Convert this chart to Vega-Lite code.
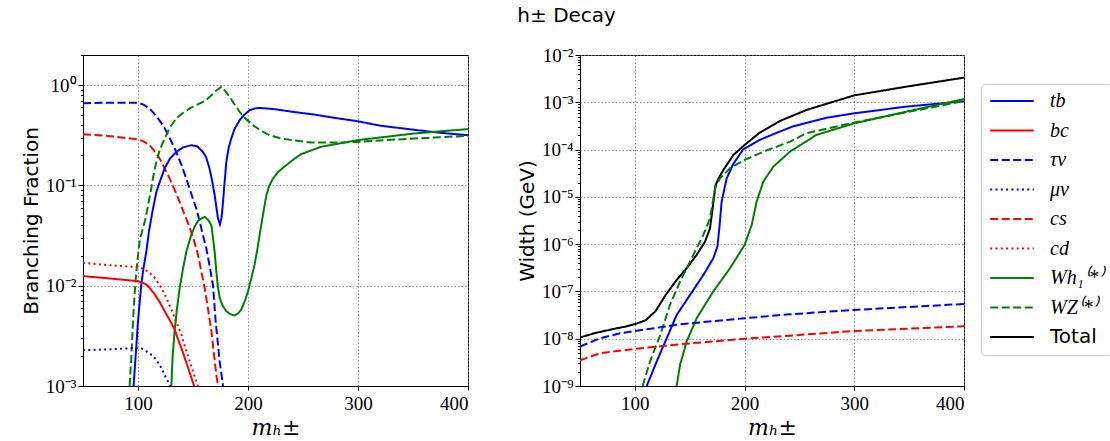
{
  "$schema": "https://vega.github.io/schema/vega-lite/v6.json",
  "padding": {"left": 20, "top": 5, "right": 5, "bottom": 5},
  "background": "white",
  "title": {"text": "h± Decay", "font": "DejaVu Sans", "fontSize": 20, "fontWeight": "normal", "anchor": "middle", "frame": "bounds", "offset": 20, "color": "black"},
  "config": {
    "view": {"stroke": "black", "strokeWidth": 1},
    "axis": {
      "labelFont": "Liberation Serif", "labelFontSize": 19, "labelColor": "black",
      "titleFont": "DejaVu Sans", "titleFontSize": 20, "titleFontWeight": "normal", "titleColor": "black",
      "domainColor": "black", "tickColor": "black", "tickSize": 4,
      "gridColor": "#777777", "gridDash": [1.5, 2], "gridWidth": 0.8
    },
    "legend": {
      "orient": "none", "legendX": 898, "legendY": 29,
      "symbolType": "stroke", "symbolSize": 1900, "symbolStrokeWidth": 2,
      "labelFont": "Liberation Serif", "labelFontSize": 20, "labelColor": "black", "labelOffset": 15,
      "strokeColor": "#cccccc", "fillColor": "white", "cornerRadius": 4, "padding": 8, "rowPadding": 9.5, "clipHeight": 18
    }
  },
  "datasets": {
    "br": [
      {"m":50,"v":0.66,"s":"τν"},{"m":75,"v":0.67,"s":"τν"},{"m":100,"v":0.67,"s":"τν"},{"m":105,"v":0.64,"s":"τν"},{"m":110.6,"v":0.586,"s":"τν"},{"m":116,"v":0.5,"s":"τν"},{"m":122.7,"v":0.4,"s":"τν"},{"m":128,"v":0.31,"s":"τν"},{"m":134.8,"v":0.216,"s":"τν"},{"m":140,"v":0.155,"s":"τν"},{"m":143.9,"v":0.117,"s":"τν"},{"m":148,"v":0.085,"s":"τν"},{"m":153,"v":0.059,"s":"τν"},{"m":156,"v":0.044,"s":"τν"},{"m":159,"v":0.032,"s":"τν"},{"m":162,"v":0.0239,"s":"τν"},{"m":165,"v":0.016,"s":"τν"},{"m":168.2,"v":0.01,"s":"τν"},{"m":170.6,"v":0.0044,"s":"τν"},{"m":174.2,"v":0.00177,"s":"τν"},{"m":177.3,"v":0.001,"s":"τν"},
      {"m":50,"v":0.325,"s":"cs"},{"m":75,"v":0.31,"s":"cs"},{"m":100,"v":0.288,"s":"cs"},{"m":105,"v":0.275,"s":"cs"},{"m":110.6,"v":0.252,"s":"cs"},{"m":115,"v":0.22,"s":"cs"},{"m":119.7,"v":0.186,"s":"cs"},{"m":124,"v":0.15,"s":"cs"},{"m":128.8,"v":0.117,"s":"cs"},{"m":133,"v":0.092,"s":"cs"},{"m":137.9,"v":0.0687,"s":"cs"},{"m":142,"v":0.052,"s":"cs"},{"m":145.5,"v":0.042,"s":"cs"},{"m":147,"v":0.038,"s":"cs"},{"m":151,"v":0.028,"s":"cs"},{"m":154.5,"v":0.0205,"s":"cs"},{"m":157.5,"v":0.014,"s":"cs"},{"m":160.6,"v":0.0095,"s":"cs"},{"m":163.5,"v":0.006,"s":"cs"},{"m":166.7,"v":0.00354,"s":"cs"},{"m":169,"v":0.0021,"s":"cs"},{"m":171.2,"v":0.0013,"s":"cs"},{"m":172.7,"v":0.001,"s":"cs"},
      {"m":96,"v":0.001,"s":"tb"},{"m":98,"v":0.0021,"s":"tb"},{"m":100,"v":0.00443,"s":"tb"},{"m":103,"v":0.0103,"s":"tb"},{"m":105,"v":0.015,"s":"tb"},{"m":107.6,"v":0.022,"s":"tb"},{"m":110,"v":0.035,"s":"tb"},{"m":113,"v":0.054,"s":"tb"},{"m":116.7,"v":0.0864,"s":"tb"},{"m":120,"v":0.11,"s":"tb"},{"m":124.2,"v":0.148,"s":"tb"},{"m":129,"v":0.185,"s":"tb"},{"m":134.8,"v":0.216,"s":"tb"},{"m":141,"v":0.24,"s":"tb"},{"m":148.5,"v":0.252,"s":"tb"},{"m":154,"v":0.245,"s":"tb"},{"m":159,"v":0.216,"s":"tb"},{"m":162,"v":0.19,"s":"tb"},{"m":165,"v":0.148,"s":"tb"},{"m":167.5,"v":0.11,"s":"tb"},{"m":169.7,"v":0.08,"s":"tb"},{"m":171.5,"v":0.058,"s":"tb"},{"m":172.7,"v":0.047,"s":"tb"},{"m":174.5,"v":0.041,"s":"tb"},{"m":176,"v":0.048,"s":"tb"},{"m":177.3,"v":0.0687,"s":"tb"},{"m":178.8,"v":0.11,"s":"tb"},{"m":180.3,"v":0.172,"s":"tb"},{"m":182.5,"v":0.24,"s":"tb"},{"m":184.8,"v":0.294,"s":"tb"},{"m":188,"v":0.37,"s":"tb"},{"m":192.4,"v":0.447,"s":"tb"},{"m":196,"v":0.5,"s":"tb"},{"m":201.5,"v":0.563,"s":"tb"},{"m":206,"v":0.585,"s":"tb"},{"m":210.6,"v":0.594,"s":"tb"},{"m":225,"v":0.575,"s":"tb"},{"m":240.9,"v":0.542,"s":"tb"},{"m":260,"v":0.51,"s":"tb"},{"m":280,"v":0.47,"s":"tb"},{"m":299.7,"v":0.437,"s":"tb"},{"m":320,"v":0.395,"s":"tb"},{"m":350,"v":0.36,"s":"tb"},{"m":375,"v":0.335,"s":"tb"},{"m":400,"v":0.317,"s":"tb"},
      {"m":130.3,"v":0.001,"s":"Wh₁⁽*⁾"},{"m":131.5,"v":0.002,"s":"Wh₁⁽*⁾"},{"m":133.3,"v":0.00354,"s":"Wh₁⁽*⁾"},{"m":135.5,"v":0.006,"s":"Wh₁⁽*⁾"},{"m":137.9,"v":0.0095,"s":"Wh₁⁽*⁾"},{"m":141,"v":0.015,"s":"Wh₁⁽*⁾"},{"m":144,"v":0.022,"s":"Wh₁⁽*⁾"},{"m":148,"v":0.031,"s":"Wh₁⁽*⁾"},{"m":151.5,"v":0.039,"s":"Wh₁⁽*⁾"},{"m":155,"v":0.045,"s":"Wh₁⁽*⁾"},{"m":160.6,"v":0.0486,"s":"Wh₁⁽*⁾"},{"m":164,"v":0.045,"s":"Wh₁⁽*⁾"},{"m":166.7,"v":0.04,"s":"Wh₁⁽*⁾"},{"m":168.2,"v":0.03,"s":"Wh₁⁽*⁾"},{"m":169.8,"v":0.021,"s":"Wh₁⁽*⁾"},{"m":171.2,"v":0.014,"s":"Wh₁⁽*⁾"},{"m":172.5,"v":0.01,"s":"Wh₁⁽*⁾"},{"m":174.2,"v":0.0076,"s":"Wh₁⁽*⁾"},{"m":177,"v":0.0063,"s":"Wh₁⁽*⁾"},{"m":180.3,"v":0.00557,"s":"Wh₁⁽*⁾"},{"m":184,"v":0.0052,"s":"Wh₁⁽*⁾"},{"m":187.9,"v":0.00505,"s":"Wh₁⁽*⁾"},{"m":191,"v":0.0053,"s":"Wh₁⁽*⁾"},{"m":193.9,"v":0.0058,"s":"Wh₁⁽*⁾"},{"m":197,"v":0.007,"s":"Wh₁⁽*⁾"},{"m":200,"v":0.0088,"s":"Wh₁⁽*⁾"},{"m":203,"v":0.0118,"s":"Wh₁⁽*⁾"},{"m":206,"v":0.0163,"s":"Wh₁⁽*⁾"},{"m":208.5,"v":0.023,"s":"Wh₁⁽*⁾"},{"m":210.6,"v":0.0324,"s":"Wh₁⁽*⁾"},{"m":212.5,"v":0.043,"s":"Wh₁⁽*⁾"},{"m":214.5,"v":0.058,"s":"Wh₁⁽*⁾"},{"m":216.7,"v":0.08,"s":"Wh₁⁽*⁾"},{"m":219.5,"v":0.1,"s":"Wh₁⁽*⁾"},{"m":222.7,"v":0.117,"s":"Wh₁⁽*⁾"},{"m":227,"v":0.135,"s":"Wh₁⁽*⁾"},{"m":231.8,"v":0.15,"s":"Wh₁⁽*⁾"},{"m":240.9,"v":0.18,"s":"Wh₁⁽*⁾"},{"m":248.2,"v":0.205,"s":"Wh₁⁽*⁾"},{"m":266.4,"v":0.243,"s":"Wh₁⁽*⁾"},{"m":299.7,"v":0.283,"s":"Wh₁⁽*⁾"},{"m":351.2,"v":0.33,"s":"Wh₁⁽*⁾"},{"m":400,"v":0.365,"s":"Wh₁⁽*⁾"},
      {"m":92.4,"v":0.001,"s":"WZ⁽*⁾"},{"m":94,"v":0.002,"s":"WZ⁽*⁾"},{"m":95.5,"v":0.00443,"s":"WZ⁽*⁾"},{"m":97,"v":0.0085,"s":"WZ⁽*⁾"},{"m":98.5,"v":0.014,"s":"WZ⁽*⁾"},{"m":100,"v":0.02,"s":"WZ⁽*⁾"},{"m":101.5,"v":0.0279,"s":"WZ⁽*⁾"},{"m":104,"v":0.036,"s":"WZ⁽*⁾"},{"m":106.5,"v":0.045,"s":"WZ⁽*⁾"},{"m":109,"v":0.062,"s":"WZ⁽*⁾"},{"m":112,"v":0.093,"s":"WZ⁽*⁾"},{"m":114,"v":0.125,"s":"WZ⁽*⁾"},{"m":116.7,"v":0.172,"s":"WZ⁽*⁾"},{"m":120,"v":0.23,"s":"WZ⁽*⁾"},{"m":124.2,"v":0.294,"s":"WZ⁽*⁾"},{"m":129,"v":0.38,"s":"WZ⁽*⁾"},{"m":134.8,"v":0.466,"s":"WZ⁽*⁾"},{"m":140,"v":0.52,"s":"WZ⁽*⁾"},{"m":147,"v":0.586,"s":"WZ⁽*⁾"},{"m":153,"v":0.635,"s":"WZ⁽*⁾"},{"m":159,"v":0.683,"s":"WZ⁽*⁾"},{"m":163,"v":0.73,"s":"WZ⁽*⁾"},{"m":166.7,"v":0.795,"s":"WZ⁽*⁾"},{"m":171,"v":0.88,"s":"WZ⁽*⁾"},{"m":175.8,"v":0.965,"s":"WZ⁽*⁾"},{"m":179,"v":0.88,"s":"WZ⁽*⁾"},{"m":183.3,"v":0.766,"s":"WZ⁽*⁾"},{"m":187,"v":0.66,"s":"WZ⁽*⁾"},{"m":192.4,"v":0.542,"s":"WZ⁽*⁾"},{"m":198,"v":0.46,"s":"WZ⁽*⁾"},{"m":204.5,"v":0.4,"s":"WZ⁽*⁾"},{"m":212,"v":0.35,"s":"WZ⁽*⁾"},{"m":219.7,"v":0.317,"s":"WZ⁽*⁾"},{"m":230,"v":0.294,"s":"WZ⁽*⁾"},{"m":240.9,"v":0.283,"s":"WZ⁽*⁾"},{"m":257.3,"v":0.268,"s":"WZ⁽*⁾"},{"m":280,"v":0.268,"s":"WZ⁽*⁾"},{"m":299.7,"v":0.272,"s":"WZ⁽*⁾"},{"m":325,"v":0.283,"s":"WZ⁽*⁾"},{"m":351.2,"v":0.294,"s":"WZ⁽*⁾"},{"m":375,"v":0.303,"s":"WZ⁽*⁾"},{"m":400,"v":0.313,"s":"WZ⁽*⁾"},
      {"m":50,"v":0.0169,"s":"cd"},{"m":75,"v":0.016,"s":"cd"},{"m":100,"v":0.0153,"s":"cd"},{"m":105,"v":0.0147,"s":"cd"},{"m":110.6,"v":0.0135,"s":"cd"},{"m":116,"v":0.0117,"s":"cd"},{"m":121.2,"v":0.0095,"s":"cd"},{"m":126,"v":0.0075,"s":"cd"},{"m":130.3,"v":0.0058,"s":"cd"},{"m":135,"v":0.0043,"s":"cd"},{"m":139.4,"v":0.00327,"s":"cd"},{"m":143,"v":0.0024,"s":"cd"},{"m":147,"v":0.00177,"s":"cd"},{"m":151,"v":0.0013,"s":"cd"},{"m":154.5,"v":0.001,"s":"cd"},
      {"m":50,"v":0.01247,"s":"bc"},{"m":75,"v":0.0118,"s":"bc"},{"m":100,"v":0.0111,"s":"bc"},{"m":104,"v":0.0107,"s":"bc"},{"m":107.6,"v":0.0103,"s":"bc"},{"m":111,"v":0.0094,"s":"bc"},{"m":115.2,"v":0.0082,"s":"bc"},{"m":120,"v":0.0068,"s":"bc"},{"m":124.2,"v":0.00558,"s":"bc"},{"m":129,"v":0.0045,"s":"bc"},{"m":133.3,"v":0.00367,"s":"bc"},{"m":137,"v":0.0028,"s":"bc"},{"m":140.9,"v":0.00215,"s":"bc"},{"m":144,"v":0.0017,"s":"bc"},{"m":147,"v":0.00136,"s":"bc"},{"m":151,"v":0.001,"s":"bc"},
      {"m":50,"v":0.00228,"s":"μν"},{"m":75,"v":0.00232,"s":"μν"},{"m":95.5,"v":0.00239,"s":"μν"},{"m":103,"v":0.00238,"s":"μν"},{"m":108,"v":0.0022,"s":"μν"},{"m":113.6,"v":0.002,"s":"μν"},{"m":117,"v":0.0018,"s":"μν"},{"m":121.2,"v":0.00152,"s":"μν"},{"m":125.5,"v":0.0012,"s":"μν"},{"m":129.4,"v":0.001,"s":"μν"}
    ],
    "wd": [
      {"m":50,"v":1.06e-8,"s":"Total"},{"m":62.8,"v":1.3e-8,"s":"Total"},{"m":80,"v":1.6e-8,"s":"Total"},{"m":92.2,"v":1.82e-8,"s":"Total"},{"m":100,"v":2.03e-8,"s":"Total"},{"m":110,"v":2.46e-8,"s":"Total"},{"m":119,"v":3.87e-8,"s":"Total"},{"m":128.2,"v":8.5e-8,"s":"Total"},{"m":138.1,"v":1.75e-7,"s":"Total"},{"m":147.2,"v":3.09e-7,"s":"Total"},{"m":156.3,"v":5.92e-7,"s":"Total"},{"m":164,"v":1.13e-6,"s":"Total"},{"m":168.5,"v":2.16e-6,"s":"Total"},{"m":170.9,"v":5.73e-6,"s":"Total"},{"m":173.5,"v":1.75e-5,"s":"Total"},{"m":176.1,"v":2.4e-5,"s":"Total"},{"m":180.7,"v":3.71e-5,"s":"Total"},{"m":189.8,"v":7.69e-5,"s":"Total"},{"m":200,"v":1.25e-4,"s":"Total"},{"m":214,"v":2.3e-4,"s":"Total"},{"m":232.3,"v":4.03e-4,"s":"Total"},{"m":256.3,"v":6.87e-4,"s":"Total"},{"m":300,"v":1.4e-3,"s":"Total"},{"m":347.4,"v":2.14e-3,"s":"Total"},{"m":400,"v":3.32e-3,"s":"Total"},
      {"m":110.8,"v":1e-9,"s":"tb"},{"m":119.9,"v":3.29e-9,"s":"tb"},{"m":129,"v":1.02e-8,"s":"tb"},{"m":138.1,"v":3.18e-8,"s":"tb"},{"m":150.3,"v":8.43e-8,"s":"tb"},{"m":162.4,"v":2.23e-7,"s":"tb"},{"m":171.5,"v":5.02e-7,"s":"tb"},{"m":175.2,"v":8.87e-7,"s":"tb"},{"m":177,"v":2.16e-6,"s":"tb"},{"m":179.1,"v":7.94e-6,"s":"tb"},{"m":183.7,"v":2.47e-5,"s":"tb"},{"m":189.8,"v":5e-5,"s":"tb"},{"m":198.6,"v":1e-4,"s":"tb"},{"m":213.8,"v":1.6e-4,"s":"tb"},{"m":228,"v":2.2e-4,"s":"tb"},{"m":244.2,"v":3.1e-4,"s":"tb"},{"m":274.5,"v":4.7e-4,"s":"tb"},{"m":300,"v":5.85e-4,"s":"tb"},{"m":347.4,"v":8.09e-4,"s":"tb"},{"m":400,"v":1.05e-3,"s":"tb"},
      {"m":138.1,"v":1e-9,"s":"Wh₁⁽*⁾"},{"m":141.2,"v":2.79e-9,"s":"Wh₁⁽*⁾"},{"m":147.2,"v":8.7e-9,"s":"Wh₁⁽*⁾"},{"m":156.3,"v":2.71e-8,"s":"Wh₁⁽*⁾"},{"m":171.5,"v":1e-7,"s":"Wh₁⁽*⁾"},{"m":186.7,"v":3.09e-7,"s":"Wh₁⁽*⁾"},{"m":200,"v":9.6e-7,"s":"Wh₁⁽*⁾"},{"m":206.5,"v":2.55e-6,"s":"Wh₁⁽*⁾"},{"m":211,"v":7.94e-6,"s":"Wh₁⁽*⁾"},{"m":217.1,"v":2.1e-5,"s":"Wh₁⁽*⁾"},{"m":226.2,"v":4.36e-5,"s":"Wh₁⁽*⁾"},{"m":241.4,"v":9.04e-5,"s":"Wh₁⁽*⁾"},{"m":265.4,"v":2.04e-4,"s":"Wh₁⁽*⁾"},{"m":300,"v":3.59e-4,"s":"Wh₁⁽*⁾"},{"m":347.4,"v":6.34e-4,"s":"Wh₁⁽*⁾"},{"m":400,"v":1.17e-3,"s":"Wh₁⁽*⁾"},
      {"m":107.1,"v":1e-9,"s":"WZ⁽*⁾"},{"m":113.8,"v":3.29e-9,"s":"WZ⁽*⁾"},{"m":122.9,"v":1.15e-8,"s":"WZ⁽*⁾"},{"m":132,"v":5.19e-8,"s":"WZ⁽*⁾"},{"m":141.2,"v":1.61e-7,"s":"WZ⁽*⁾"},{"m":153.3,"v":5.92e-7,"s":"WZ⁽*⁾"},{"m":162.4,"v":1.57e-6,"s":"WZ⁽*⁾"},{"m":168.5,"v":3.52e-6,"s":"WZ⁽*⁾"},{"m":173.1,"v":1.52e-5,"s":"WZ⁽*⁾"},{"m":177.6,"v":2.47e-5,"s":"WZ⁽*⁾"},{"m":186.7,"v":4.02e-5,"s":"WZ⁽*⁾"},{"m":200,"v":6.03e-5,"s":"WZ⁽*⁾"},{"m":217.1,"v":9.04e-5,"s":"WZ⁽*⁾"},{"m":241.4,"v":1.47e-4,"s":"WZ⁽*⁾"},{"m":256.3,"v":2.21e-4,"s":"WZ⁽*⁾"},{"m":300,"v":3.72e-4,"s":"WZ⁽*⁾"},{"m":347.4,"v":6.14e-4,"s":"WZ⁽*⁾"},{"m":400,"v":1.06e-3,"s":"WZ⁽*⁾"},
      {"m":50,"v":6.82e-9,"s":"τν"},{"m":68.2,"v":1.02e-8,"s":"τν"},{"m":86.5,"v":1.3e-8,"s":"τν"},{"m":100,"v":1.45e-8,"s":"τν"},{"m":141.2,"v":2.02e-8,"s":"τν"},{"m":200,"v":2.71e-8,"s":"τν"},{"m":241.4,"v":3.29e-8,"s":"τν"},{"m":300,"v":4.06e-8,"s":"τν"},{"m":400,"v":5.44e-8,"s":"τν"},
      {"m":50,"v":3.5e-9,"s":"cs"},{"m":68.2,"v":4.93e-9,"s":"cs"},{"m":100,"v":6.1e-9,"s":"cs"},{"m":141.2,"v":7.64e-9,"s":"cs"},{"m":200,"v":1e-8,"s":"cs"},{"m":241.4,"v":1.16e-8,"s":"cs"},{"m":300,"v":1.46e-8,"s":"cs"},{"m":400,"v":1.83e-8,"s":"cs"}
    ]
  },
  "spacing": 47,
  "resolve": {"scale": {"color": "shared", "strokeDash": "shared"}},
  "hconcat": [
    {
      "width": 385, "height": 331,
      "data": {"name": "br"},
      "mark": {"type": "line", "clip": true, "strokeWidth": 2},
      "encoding": {
        "x": {"field": "m", "type": "quantitative", "scale": {"domain": [50, 400], "nice": false, "zero": false},
              "axis": {"title": "mₕ±", "titleFont": "DejaVu Serif", "titleFontStyle": "italic", "titleFontSize": 22, "values": [100, 200, 300, 400], "grid": true, "labelPadding": 4, "titlePadding": 4}},
        "y": {"field": "v", "type": "quantitative", "scale": {"type": "log", "domain": [0.001, 2], "nice": false},
              "axis": {"title": "Branching Fraction", "grid": true, "labelPadding": 2, "titlePadding": 4, "labelOverlap": false,
                       "values": [0.001,0.002,0.003,0.004,0.005,0.006,0.007,0.008,0.009,0.01,0.02,0.03,0.04,0.05,0.06,0.07,0.08,0.09,0.1,0.2,0.3,0.4,0.5,0.6,0.7,0.8,0.9,1,2],
                       "tickSize": {"condition": {"test": "abs(log(datum.value)/LN10 - round(log(datum.value)/LN10)) < 0.001", "value": 5}, "value": 2.5},
                       "gridOpacity": {"condition": {"test": "abs(log(datum.value)/LN10 - round(log(datum.value)/LN10)) < 0.001", "value": 1}, "value": 0},
                       "labelExpr": "abs(log(datum.value)/LN10 - round(log(datum.value)/LN10)) > 0.001 ? '' : ['10⁻³','10⁻²','10⁻¹','10⁰'][round(log(datum.value)/LN10)+3]"}},
        "color": {"field": "s", "type": "nominal",
                  "scale": {"domain": ["tb","bc","τν","μν","cs","cd","Wh₁⁽*⁾","WZ⁽*⁾","Total"], "range": ["#0000ff","#ff0000","#0000ff","#0000ff","#ff0000","#ff0000","#008000","#008000","#000000"]},
                  "legend": {"title": null, "encode": {"labels": {"update": {"fontStyle": {"signal": "datum.label === 'Total' ? 'normal' : 'italic'"}, "font": {"signal": "datum.label === 'Total' ? 'DejaVu Sans' : 'Liberation Serif'"}}}}}},
        "strokeDash": {"field": "s", "type": "nominal",
                  "scale": {"domain": ["tb","bc","τν","μν","cs","cd","Wh₁⁽*⁾","WZ⁽*⁾","Total"], "range": [[1,0],[1,0],[8,3.5],[2,3.3],[8,3.5],[2,3.3],[1,0],[8,3.5],[1,0]]},
                  "legend": {"title": null, "encode": {"labels": {"update": {"fontStyle": {"signal": "datum.label === 'Total' ? 'normal' : 'italic'"}, "font": {"signal": "datum.label === 'Total' ? 'DejaVu Sans' : 'Liberation Serif'"}}}}}}
      }
    },
    {
      "width": 384, "height": 331,
      "data": {"name": "wd"},
      "mark": {"type": "line", "clip": true, "strokeWidth": 2},
      "encoding": {
        "x": {"field": "m", "type": "quantitative", "scale": {"domain": [50, 400], "nice": false, "zero": false},
              "axis": {"title": "mₕ±", "titleFont": "DejaVu Serif", "titleFontStyle": "italic", "titleFontSize": 22, "values": [100, 200, 300, 400], "grid": true, "labelPadding": 4, "titlePadding": 4}},
        "y": {"field": "v", "type": "quantitative", "scale": {"type": "log", "domain": [1e-9, 0.01], "nice": false},
              "axis": {"title": "Width (GeV)", "grid": true, "labelPadding": 2, "titlePadding": 4, "labelOverlap": false,
                       "values": [1e-9,2e-9,3e-9,4e-9,5e-9,6e-9,7e-9,8e-9,9e-9,1e-8,2e-8,3e-8,4e-8,5e-8,6e-8,7e-8,8e-8,9e-8,1e-7,2e-7,3e-7,4e-7,5e-7,6e-7,7e-7,8e-7,9e-7,1e-6,2e-6,3e-6,4e-6,5e-6,6e-6,7e-6,8e-6,9e-6,1e-5,2e-5,3e-5,4e-5,5e-5,6e-5,7e-5,8e-5,9e-5,1e-4,2e-4,3e-4,4e-4,5e-4,6e-4,7e-4,8e-4,9e-4,1e-3,2e-3,3e-3,4e-3,5e-3,6e-3,7e-3,8e-3,9e-3,1e-2],
                       "tickSize": {"condition": {"test": "abs(log(datum.value)/LN10 - round(log(datum.value)/LN10)) < 0.001", "value": 5}, "value": 2.5},
                       "gridOpacity": {"condition": {"test": "abs(log(datum.value)/LN10 - round(log(datum.value)/LN10)) < 0.001", "value": 1}, "value": 0},
                       "labelExpr": "abs(log(datum.value)/LN10 - round(log(datum.value)/LN10)) > 0.001 ? '' : ['10⁻⁹','10⁻⁸','10⁻⁷','10⁻⁶','10⁻⁵','10⁻⁴','10⁻³','10⁻²'][round(log(datum.value)/LN10)+9]"}},
        "color": {"field": "s", "type": "nominal",
                  "scale": {"domain": ["tb","bc","τν","μν","cs","cd","Wh₁⁽*⁾","WZ⁽*⁾","Total"], "range": ["#0000ff","#ff0000","#0000ff","#0000ff","#ff0000","#ff0000","#008000","#008000","#000000"]},
                  "legend": {"title": null, "encode": {"labels": {"update": {"fontStyle": {"signal": "datum.label === 'Total' ? 'normal' : 'italic'"}, "font": {"signal": "datum.label === 'Total' ? 'DejaVu Sans' : 'Liberation Serif'"}}}}}},
        "strokeDash": {"field": "s", "type": "nominal",
                  "scale": {"domain": ["tb","bc","τν","μν","cs","cd","Wh₁⁽*⁾","WZ⁽*⁾","Total"], "range": [[1,0],[1,0],[8,3.5],[2,3.3],[8,3.5],[2,3.3],[1,0],[8,3.5],[1,0]]},
                  "legend": {"title": null, "encode": {"labels": {"update": {"fontStyle": {"signal": "datum.label === 'Total' ? 'normal' : 'italic'"}, "font": {"signal": "datum.label === 'Total' ? 'DejaVu Sans' : 'Liberation Serif'"}}}}}}
      }
    }
  ]
}
